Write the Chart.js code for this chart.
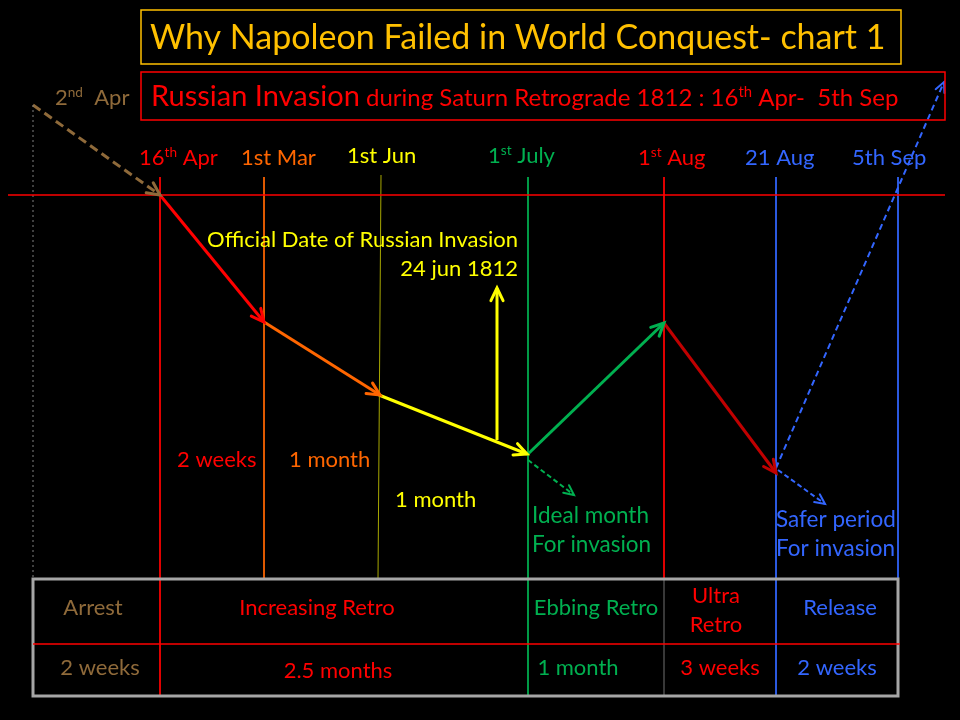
<!DOCTYPE html>
<html lang="en">
<head>
  <meta charset="UTF-8">
  <title>Why Napoleon Failed in World Conquest</title>
  <script src="https://cdn.jsdelivr.net/npm/chart.js"></script>
  <style>
    html, body { margin: 0; padding: 0; background: #000; }
    canvas { display: block; }
  </style>
</head>
<body>
  <canvas id="napChart" width="960" height="720"></canvas>

  <script>
    // timeline stages (x = position on the timeline, y = retro level, 0 at top)
    const stageDates = ['2nd Apr', '16th Apr', '1st Mar', '1st Jun', '1st July', '1st Aug', '21 Aug', '5th Sep'];
    const stageX = [33, 160, 264, 380, 528, 664, 776, 898];
    const pathY = [105, 195, 322, 395, 454, 323, 473];
    const segColors = ['#8F6A3A', '#FF0000', '#FF6600', '#FFFF00', '#00B050', '#C00000'];
    const segDashed = [true, false, false, false, false, false];

    // release: dashed arrow leaving 21 Aug
    const releaseX = [776, 944];
    const releaseY = [468, 82];
    // side arrows
    const idealX = [528, 574], idealY = [460, 495];
    const saferX = [778, 825], saferY = [470, 504];
    const officialX = [497, 497], officialY = [440, 288];

    // vertical date lines: top / bottom
    const lineTop = [105, 177, 177, 175, 177, 177, 177, 177];
    const lineBottom = [579, 695, 578, 578, 695, 578, 695, 598];
    const lineColors = ['#808080', '#FF0000', '#FF6600', '#A8A800', '#00B050', '#FF0000', '#3366FF', '#3366FF'];

    // bottom table
    const phaseNames = ['Arrest', 'Increasing Retro', 'Ebbing Retro', 'Ultra\nRetro', 'Release'];
    const phaseLengths = ['2 weeks', '2.5 months', '1 month', '3 weeks', '2 weeks'];
    const phaseColors = ['#8F6A3A', '#FF0000', '#00B050', '#FF0000', '#3366FF'];

    const FONT = 'Lato, "Open Sans", sans-serif';

    function seg(xs, ys, color, opts) {
      return Object.assign({
        data: xs.map((x, i) => ({ x: x, y: ys[i] })),
        showLine: true,
        borderColor: color,
        backgroundColor: color,
        borderWidth: 3,
        pointRadius: 0,
        clip: false,
        arrow: true
      }, opts || {});
    }

    const datasets = [];
    // horizontal start line
    datasets.push(seg([8, 945], [195, 195], '#FF0000', { borderWidth: 1.3, arrow: false }));
    // vertical date lines
    stageX.forEach((x, i) => {
      const xt = i === 3 ? x + 1 : x, xb = i === 3 ? x - 2 : x;
      datasets.push(seg([xt, xb], [lineTop[i], lineBottom[i]], lineColors[i], {
        borderWidth: 1, arrow: false, borderDash: i === 0 ? [2, 3] : []
      }));
    });
    // Ultra retro column line inside the table is grey
    datasets.push(seg([664, 664], [580, 695], '#404040', { borderWidth: 1, arrow: false }));
    // main path
    for (let i = 0; i < pathY.length - 1; i++) {
      datasets.push(seg([i === 3 ? 379 : stageX[i], i === 3 ? 527 : stageX[i + 1]], [pathY[i], pathY[i + 1]], segColors[i], {
        borderDash: segDashed[i] ? [9, 5] : []
      }));
    }
    datasets.push(seg(releaseX, releaseY, '#3366FF', { borderWidth: 2, borderDash: [6, 4] }));
    datasets.push(seg(idealX, idealY, '#00B050', { borderWidth: 2, borderDash: [5, 3] }));
    datasets.push(seg(saferX, saferY, '#3366FF', { borderWidth: 2, borderDash: [5, 3] }));
    datasets.push(seg(officialX, officialY, '#FFFF00'));

    // text annotations: runs of [text, superscript]
    const texts = [
      { runs: [['Why Napoleon Failed in World Conquest- chart 1']], x: 150, y: 49, size: 34, color: '#FFC000' },
      { runs: [['2'], ['nd', 1], ['  Apr']], x: 55, y: 105, size: 22, color: '#8F6A3A' },
      { runs: [['16'], ['th', 1], [' Apr']], x: 139, y: 165, size: 22, color: '#FF0000' },
      { runs: [['1st Mar']], x: 241, y: 165, size: 22, color: '#FF6600' },
      { runs: [['1st Jun']], x: 347, y: 163, size: 22, color: '#FFFF00' },
      { runs: [['1'], ['st', 1], [' July']], x: 488, y: 163, size: 22, color: '#00B050' },
      { runs: [['1'], ['st', 1], [' Aug']], x: 638, y: 165, size: 22, color: '#FF0000' },
      { runs: [['21 Aug']], x: 745, y: 165, size: 22, color: '#3366FF' },
      { runs: [['5th Sep']], x: 852, y: 165, size: 22, color: '#3366FF' },
      { runs: [['Official Date of Russian Invasion']], x: 518, y: 247, size: 22, color: '#FFFF00', align: 'right' },
      { runs: [['24 jun 1812']], x: 518, y: 276, size: 22, color: '#FFFF00', align: 'right' },
      { runs: [['2 weeks']], x: 177, y: 467, size: 22, color: '#FF0000' },
      { runs: [['1 month']], x: 289, y: 467, size: 22, color: '#FF6600' },
      { runs: [['1 month']], x: 395, y: 507, size: 22, color: '#FFFF00' },
      { runs: [['Ideal month']], x: 532, y: 523, size: 22.5, color: '#00B050' },
      { runs: [['For invasion']], x: 532, y: 552, size: 22.5, color: '#00B050' },
      { runs: [['Safer period']], x: 776, y: 527, size: 22.5, color: '#3366FF' },
      { runs: [['For invasion']], x: 776, y: 556, size: 22.5, color: '#3366FF' }
    ];
    const subtitleRuns = [
      ['Russian Invasion', 0, 29], [' during Saturn Retrograde 1812 : 16', 0, 24], ['th', 1, 24], [' Apr-  5th Sep', 0, 24]
    ];

    // table cell centres
    const cellCenters = [93, 317, 596, 716, 840];
    const lengthCenters = [100, 338, 578, 720, 837];

    function drawRuns(ctx, runs, x, y, size, color, align) {
      ctx.fillStyle = color;
      ctx.textBaseline = 'alphabetic';
      ctx.textAlign = 'left';
      const parts = runs.map(r => {
        const sz = r[2] || size;
        const s = r[1] ? sz * 0.62 : sz;
        ctx.font = s + 'px ' + FONT;
        return { t: r[0], s: s, sup: r[1], sz: sz, w: ctx.measureText(r[0]).width };
      });
      const total = parts.reduce((a, p) => a + p.w, 0);
      let cx = align === 'right' ? x - total : align === 'center' ? x - total / 2 : x;
      parts.forEach(p => {
        ctx.font = p.s + 'px ' + FONT;
        ctx.fillText(p.t, cx, p.sup ? y - p.sz * 0.36 : y);
        cx += p.w;
      });
    }

    const decorPlugin = {
      id: 'decor',
      beforeDraw(chart) {
        const ctx = chart.ctx;
        ctx.save();
        ctx.fillStyle = '#000';
        ctx.fillRect(0, 0, chart.width, chart.height);
        ctx.restore();
      },
      afterDatasetsDraw(chart) {
        const ctx = chart.ctx;
        chart.data.datasets.forEach((ds, i) => {
          if (!ds.arrow) return;
          const pts = chart.getDatasetMeta(i).data;
          const a = pts[pts.length - 2], b = pts[pts.length - 1];
          const ang = Math.atan2(b.y - a.y, b.x - a.x);
          const len = ds.borderWidth >= 3 ? 14 : 11;
          ctx.save();
          ctx.strokeStyle = ds.borderColor;
          ctx.lineWidth = ds.borderWidth;
          ctx.setLineDash([]);
          ctx.lineCap = 'round';
          ctx.beginPath();
          ctx.moveTo(b.x - len * Math.cos(ang - 0.45), b.y - len * Math.sin(ang - 0.45));
          ctx.lineTo(b.x, b.y);
          ctx.lineTo(b.x - len * Math.cos(ang + 0.45), b.y - len * Math.sin(ang + 0.45));
          ctx.stroke();
          ctx.restore();
        });
      },
      afterDraw(chart) {
        const ctx = chart.ctx;
        const sx = v => chart.scales.x.getPixelForValue(v);
        const sy = v => chart.scales.y.getPixelForValue(v);
        ctx.save();
        // title boxes
        ctx.lineWidth = 1.5;
        ctx.strokeStyle = '#FFC000';
        ctx.strokeRect(sx(141), sy(10), sx(901) - sx(141), sy(64) - sy(10));
        ctx.strokeStyle = '#FF0000';
        ctx.strokeRect(sx(141), sy(72), sx(945) - sx(141), sy(120) - sy(72));
        drawRuns(ctx, subtitleRuns, sx(151), sy(106), 24, '#FF0000');
        texts.forEach(t => drawRuns(ctx, t.runs, sx(t.x), sy(t.y), t.size, t.color, t.align));

        // table
        ctx.strokeStyle = '#A6A6A6';
        ctx.lineWidth = 3;
        ctx.strokeRect(sx(33), sy(579), sx(898) - sx(33), sy(696) - sy(579));
        ctx.strokeStyle = '#FF0000';
        ctx.lineWidth = 1.5;
        ctx.beginPath();
        ctx.moveTo(sx(33), sy(644));
        ctx.lineTo(sx(900), sy(644));
        ctx.stroke();
        phaseNames.forEach((name, i) => {
          const lines = name.split('\n');
          const base = lines.length > 1 ? 603 : 615;
          lines.forEach((ln, j) => drawRuns(ctx, [[ln]], sx(cellCenters[i]), sy(base + j * 29), 22, phaseColors[i], 'center'));
          drawRuns(ctx, [[phaseLengths[i]]], sx(lengthCenters[i]), sy(i === 1 ? 678 : 675), 22, phaseColors[i], 'center');
        });
        ctx.restore();
      }
    };

    new Chart(document.getElementById('napChart').getContext('2d'), {
      type: 'scatter',
      data: { datasets: datasets },
      options: {
        responsive: false,
        animation: false,
        devicePixelRatio: 1,
        layout: { padding: 0 },
        plugins: { legend: { display: false }, tooltip: { enabled: false } },
        scales: {
          x: { type: 'linear', min: 0, max: 960, display: false },
          y: { type: 'linear', min: 0, max: 720, reverse: true, display: false }
        }
      },
      plugins: [decorPlugin]
    });
  </script>
</body>
</html>
